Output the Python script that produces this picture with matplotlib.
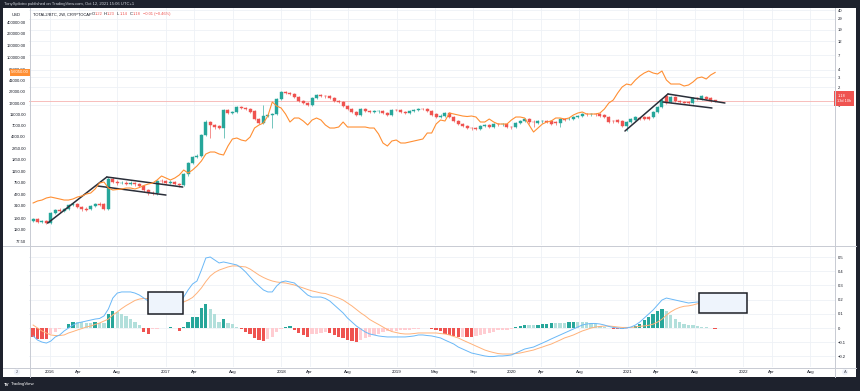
import matplotlib
matplotlib.use("Agg")
import matplotlib.pyplot as plt
import matplotlib.dates as mdates
import matplotlib.transforms as mtransforms
from matplotlib.patches import Rectangle
from matplotlib.lines import Line2D
from matplotlib.ticker import NullLocator
import numpy as np
import pandas as pd

plt.rcParams["font.family"] = ["Liberation Sans", "DejaVu Sans"]

# ---- data (TOTAL2/BTC, 2W candles; overlay BTCUSD; MACD) ----
dates = pd.date_range("2015-11-09", periods=155, freq="14D")

opens = [
    .0111, .0120, .0106, .0111, .0102, .0151, .0170, .0163, .0176, .0206,
    .0214, .0191, .0176, .0176, .0198, .0214, .0214, .0176, .0567, .0505,
    .0485, .0495, .0476, .0485, .0467, .0432, .0370, .0329, .0323, .0525,
    .0515, .0495, .0505, .0467, .0449, .0689, .1057, .1335, .1388, .3143,
    .5212, .4638, .4461, .4127, .8314, .7398, .7692, .9343, .8987, .8644,
    .7997, .5858, .5013, .6583, .6844, .7116, 1.2755, 1.675, 1.611, 1.5495,
    1.3788, 1.18, 1.0917, 1.0099, 1.3262, 1.462, 1.4335, 1.406, 1.3262, 1.18,
    1.135, .9714, .8644, .7692, .6844, .8644, .7997, .7692, .7843, .7997,
    .7398, .6844, .8314, .8154, .7692, .7543, .7997, .8154, .8644, .8479,
    .7997, .7116, .6332, .6583, .7398, .6332, .5419, .4822, .4461, .4127,
    .4127, .3970, .4461, .4638, .4291, .4822, .4730, .4822, .4291, .4291,
    .5013, .5419, .5858, .5212, .5013, .5315, .5419, .5419, .5212, .5013,
    .5858, .5858, .5858, .6332, .6583, .7116, .6979, .7116, .7116, .6844,
    .6332, .5419, .5634, .5419, .4461, .5212, .5634, .6090, .6332, .6210,
    .6332, .7692, .9343, 1.4335, 1.135, 1.3788, 1.18, 1.135, 1.135, 1.0917,
    1.3262, 1.2755, 1.3788, 1.3262, 1.22,
]
closes = [
    .0120, .0106, .0111, .0102, .0151, .0170, .0163, .0176, .0206, .0214,
    .0191, .0176, .0173, .0198, .0214, .0210, .0176, .0567, .0505, .0485,
    .0495, .0476, .0485, .0467, .0432, .0370, .0329, .0323, .0525, .0515,
    .0495, .0505, .0467, .0449, .0689, .1057, .1335, .1388, .3143, .5212,
    .4638, .4209, .4127, .8314, .7398, .7692, .9343, .8987, .8644, .7692,
    .5858, .5013, .6583, .6844, .7116, 1.2755, 1.675, 1.611, 1.5495, 1.3788,
    1.18, 1.0917, 1.0099, 1.3262, 1.462, 1.4335, 1.406, 1.3262, 1.18, 1.135,
    .9714, .8644, .7692, .6844, .8644, .7997, .7692, .7843, .7997, .7398,
    .6844, .8314, .8154, .7692, .7543, .7997, .8154, .8644, .8479, .7997,
    .6844, .6332, .6712, .7398, .6332, .5419, .4822, .4461, .4127, .4048,
    .3970, .4461, .4638, .4291, .4822, .4730, .4822, .4291, .4209, .5013,
    .5419, .5858, .5212, .5112, .5419, .5419, .5212, .4822, .4917, .5858,
    .5744, .5972, .6332, .6583, .7255, .6979, .7116, .6979, .6583, .6332,
    .5212, .5315, .5212, .4461, .5212, .5858, .6332, .5972, .5858, .5858,
    .7692, .9343, 1.2268, 1.0917, 1.3788, 1.18, 1.135, 1.113, 1.0917, 1.3262,
    1.3007, 1.4335, 1.2755, 1.18, 1.18,
]
highs = [
    .0124, .0124, .0115, .0115, .0157, .0176, .0183, .0183, .0214, .0232,
    .0223, .0198, .0191, .0206, .0223, .0232, .0223, .0613, .0613, .0546,
    .0525, .0525, .0525, .0505, .0485, .0449, .0384, .0356, .0546, .0567,
    .0546, .0546, .0525, .0485, .0716, .1099, .1388, .1500, .3268, .5634,
    .5419, .4822, .4638, .8644, .8644, .7997, .9714, .9714, .9343, .8987,
    .8314, .6090, 1.0099, .7116, .7398, 1.3262, 1.742, 1.742, 1.675, 1.611,
    1.4335, 1.2268, 1.135, 1.3788, 1.5495, 1.52, 1.4904, 1.462, 1.3788, 1.2268,
    1.18, 1.0099, .8987, .7997, .8987, .8987, .8314, .8154, .8314, .8314,
    .7692, .8644, .8644, .8479, .7997, .8314, .8479, .8987, .8987, .8814,
    .8314, .7398, .6979, .7692, .7692, .6583, .5634, .5013, .4638, .4291,
    .4291, .4638, .4822, .4822, .5013, .5013, .5013, .5013, .4461, .5212,
    .5634, .6090, .6090, .5634, .5634, .5634, .5634, .5634, .5419, .6090,
    .6090, .6210, .6583, .6844, .7543, .7398, .7398, .7398, .7398, .7116,
    .6583, .5634, .5858, .5634, .5419, .6090, .6583, .6332, .6583, .6583,
    .7997, .9714, 1.2755, 1.5495, 1.4335, 1.4335, 1.2268, 1.18, 1.18, 1.3788,
    1.3788, 1.4904, 1.4335, 1.3788, 1.23,
]
lows = [
    .0106, .0102, .0102, .0098, .0098, .0145, .0157, .0157, .0170, .0198,
    .0183, .0163, .0163, .0170, .0191, .0198, .0170, .0170, .0485, .0449,
    .0467, .0449, .0449, .0432, .0415, .0342, .0304, .0304, .0304, .0485,
    .0467, .0467, .0449, .0415, .0432, .0637, .1017, .1284, .1335, .3023,
    .2797, .3970, .3970, .2797, .7116, .7116, .7398, .8644, .8314, .7398,
    .5634, .4822, .4822, .6332, .4127, .6844, 1.2268, 1.5495, 1.4904, 1.3262,
    1.135, 1.05, .9714, .9714, 1.2755, 1.3788, 1.3262, 1.2755, 1.135, 1.0917,
    .9343, .8314, .7398, .6583, .6583, .7692, .7398, .7398, .7543, .7116,
    .6583, .6583, .7843, .7398, .7255, .7255, .7692, .7843, .8154, .7692,
    .6583, .6090, .6090, .6332, .6090, .5212, .4638, .4291, .3970, .3818,
    .3818, .3818, .4291, .4127, .4127, .4461, .4461, .4127, .3970, .4127,
    .4822, .5212, .4822, .4291, .4822, .5013, .5013, .4638, .4638, .4291,
    .5419, .5634, .5634, .6090, .6332, .6712, .6712, .6712, .6332, .6090,
    .5013, .5013, .5013, .4291, .3672, .5013, .5419, .5634, .5634, .5634,
    .6090, .7398, .8987, 1.05, 1.0917, 1.135, 1.0917, 1.0707, 1.05, 1.05,
    1.2508, 1.2268, 1.2268, 1.135, 1.14,
]
btc_usd = [
    342, 370, 384, 416, 432, 416, 400, 384, 384, 400,
    432, 449, 486, 505, 591, 747, 777, 614, 568, 579,
    591, 614, 614, 591, 626, 677, 718, 747, 840, 982,
    908, 840, 908, 1021, 1241, 1104, 1241, 1451, 1764, 2319,
    2507, 2507, 2319, 2230, 3169, 4167, 4333, 4007, 3853, 4505,
    6400, 7197, 7783, 10231, 17680, 15120, 13983, 11062, 8093, 9463,
    9463, 8416, 7197, 8751, 9463, 8751, 7197, 6400, 6400, 6656,
    8093, 6656, 6656, 6656, 6656, 6656, 6400, 6400, 5065, 3564,
    3169, 3853, 4007, 3564, 3564, 3706, 3853, 4007, 4167, 5266,
    5266, 7485, 8751, 8416, 11502, 11062, 10640, 10231, 10033, 10231,
    9839, 8093, 8093, 9100, 8093, 7485, 7485, 7485, 8751, 9839,
    9839, 9463, 7197, 5475, 6400, 7485, 8093, 8416, 9463, 9463,
    9100, 9463, 10640, 11502, 11963, 11062, 11062, 11062, 11502, 13450,
    17004, 19113, 25126, 31760, 35712, 34342, 41765, 48825, 54901, 59365,
    54901, 52793, 59365, 41765, 35712, 35712, 35712, 33024, 34342, 38614,
    45152, 46950, 43416, 50770, 56050,
]
macd = [
    -0.056, -0.085, -0.099, -0.106, -0.092, -0.063, -0.049, -0.021, 0.0, 0.021,
    0.035, 0.042, 0.049, 0.056, 0.063, 0.067, 0.085, 0.134, 0.211, 0.246,
    0.254, 0.254, 0.254, 0.246, 0.232, 0.211, 0.190, 0.155, 0.176, 0.183,
    0.190, 0.187, 0.183, 0.176, 0.218, 0.268, 0.310, 0.331, 0.408, 0.493,
    0.500, 0.479, 0.458, 0.465, 0.458, 0.451, 0.444, 0.423, 0.394, 0.359,
    0.324, 0.296, 0.268, 0.254, 0.254, 0.296, 0.324, 0.331, 0.324, 0.317,
    0.289, 0.261, 0.232, 0.218, 0.218, 0.218, 0.208, 0.190, 0.162, 0.134,
    0.106, 0.070, 0.042, 0.014, -0.007, -0.028, -0.042, -0.049, -0.056, -0.060,
    -0.063, -0.063, -0.063, -0.063, -0.063, -0.060, -0.056, -0.049, -0.049, -0.053,
    -0.056, -0.063, -0.070, -0.085, -0.099, -0.113, -0.134, -0.148, -0.162, -0.176,
    -0.183, -0.190, -0.197, -0.201, -0.201, -0.197, -0.197, -0.194, -0.190, -0.176,
    -0.162, -0.148, -0.141, -0.134, -0.120, -0.106, -0.092, -0.077, -0.063, -0.049,
    -0.035, -0.021, -0.007, 0.007, 0.021, 0.028, 0.032, 0.032, 0.028, 0.021,
    0.011, 0.004, 0.0, -0.004, 0.0, 0.007, 0.021, 0.042, 0.070, 0.099,
    0.127, 0.162, 0.197, 0.211, 0.204, 0.197, 0.190, 0.183, 0.176, 0.180,
    0.183, 0.183, 0.180, 0.176, 0.169,
]
signal = [
    0.021, 0.0, -0.021, -0.035, -0.049, -0.053, -0.053, -0.049, -0.035, -0.025,
    -0.014, -0.004, 0.007, 0.014, 0.025, 0.035, 0.049, 0.063, 0.092, 0.113,
    0.137, 0.158, 0.176, 0.194, 0.204, 0.208, 0.208, 0.201, 0.194, 0.190,
    0.187, 0.183, 0.183, 0.183, 0.183, 0.197, 0.215, 0.246, 0.282, 0.327,
    0.366, 0.391, 0.408, 0.419, 0.430, 0.437, 0.437, 0.433, 0.430, 0.415,
    0.394, 0.373, 0.356, 0.342, 0.331, 0.324, 0.320, 0.317, 0.310, 0.303,
    0.292, 0.282, 0.271, 0.261, 0.254, 0.246, 0.243, 0.232, 0.222, 0.211,
    0.197, 0.176, 0.155, 0.130, 0.106, 0.085, 0.060, 0.042, 0.025, 0.007,
    -0.011, -0.025, -0.032, -0.039, -0.042, -0.042, -0.039, -0.035, -0.035, -0.035,
    -0.035, -0.035, -0.039, -0.042, -0.049, -0.060, -0.070, -0.085, -0.099, -0.113,
    -0.127, -0.141, -0.155, -0.165, -0.173, -0.180, -0.183, -0.183, -0.183, -0.180,
    -0.176, -0.169, -0.162, -0.155, -0.144, -0.134, -0.123, -0.113, -0.099, -0.085,
    -0.070, -0.060, -0.049, -0.035, -0.021, -0.011, 0.0, 0.007, 0.011, 0.014,
    0.014, 0.011, 0.007, 0.004, 0.004, 0.004, 0.007, 0.012, 0.015, 0.019,
    0.027, 0.042, 0.062, 0.091, 0.114, 0.132, 0.145, 0.153, 0.156, 0.162,
    0.171, 0.173, 0.174, 0.174, 0.176,
]
hist = [
    -0.06, -0.075, -0.08, -0.08, -0.045, -0.03, -0.01, 0.003, 0.025, 0.045,
    0.04, 0.04, 0.038, 0.035, 0.045, 0.035, 0.032, 0.1, 0.12, 0.11,
    0.1, 0.085, 0.065, 0.045, 0.02, -0.025, -0.04, -0.01, -0.006, -0.003,
    0.003, 0.004, 0.002, -0.02, 0.004, 0.045, 0.075, 0.08, 0.14, 0.167,
    0.135, 0.1, 0.045, 0.06, 0.035, 0.025, 0.007, -0.01, -0.025, -0.045,
    -0.07, -0.085, -0.09, -0.08, -0.06, -0.03, -0.01, 0.005, 0.014, -0.014,
    -0.033, -0.05, -0.06, -0.045, -0.04, -0.035, -0.03, -0.035, -0.05, -0.065,
    -0.07, -0.082, -0.09, -0.1, -0.082, -0.07, -0.06, -0.05, -0.04, -0.03,
    -0.022, -0.02, -0.018, -0.016, -0.014, -0.012, -0.01, -0.008, 0.003, 0.002,
    -0.01, -0.015, -0.02, -0.04, -0.05, -0.053, -0.064, -0.063, -0.063, -0.063,
    -0.056, -0.049, -0.042, -0.036, -0.028, -0.017, -0.014, -0.011, -0.007, 0.004,
    0.014, 0.021, 0.021, 0.021, 0.024, 0.028, 0.031, 0.036, 0.036, 0.036,
    0.035, 0.039, 0.042, 0.042, 0.042, 0.039, 0.032, 0.025, 0.017, 0.007,
    -0.003, -0.007, -0.007, -0.008, -0.004, 0.003, 0.014, 0.03, 0.055, 0.08,
    0.1, 0.12, 0.135, 0.12, 0.09, 0.065, 0.045, 0.03, 0.02, 0.018,
    0.012, 0.01, 0.006, 0.002, -0.007,
]

usd_ticks = [400000, 260000, 160000, 100000, 63000, 41000, 27000, 17000, 11000,
             7000, 4600, 2850, 1850, 1150, 750, 470, 310, 190, 120, 77.5]
ratio_ticks = [40, 29, 19, 12, 7, 4, 3, 2, 1]
macd_ticks = [0.5, 0.4, 0.3, 0.2, 0.1, 0, -0.1, -0.2]
time_ticks = ["2016-01-01", "2016-04-01", "2016-08-01", "2017-01-01", "2017-04-01",
              "2017-08-01", "2018-01-01", "2018-04-01", "2018-08-01", "2019-01-01",
              "2019-05-01", "2019-09-01", "2020-01-01", "2020-04-01", "2020-08-01",
              "2021-01-01", "2021-04-01", "2021-08-01", "2022-01-01", "2022-04-01",
              "2022-08-01"]
time_labels = ["2016", "Apr", "Aug", "2017", "Apr", "Aug", "2018", "Apr", "Aug", "2019",
               "May", "Sep", "2020", "Apr", "Aug", "2021", "Apr", "Aug", "2022", "Apr", "Aug"]

# drawings: (date, value) pairs
flag_lines = [
    (("2015-12-25", 0.0102), ("2016-06-29", 0.0613)),
    (("2016-06-29", 0.0613), ("2017-02-24", 0.0415)),
    (("2016-05-31", 0.0432), ("2017-01-02", 0.0304)),
    (("2020-12-23", 0.367), ("2021-05-08", 1.55)),
    (("2021-05-08", 1.55), ("2021-11-04", 1.092)),
    (("2021-04-22", 1.135), ("2021-09-24", 0.899)),
]
macd_boxes = [
    ("2016-11-05", "2017-02-25", 0.101, 0.251),
    ("2021-08-14", "2022-01-13", 0.106, 0.246),
]

UP, DOWN = "#26a69a", "#ef5350"
TXT = "#131722"
GRID = "#eef1f6"
DARK = "#1e222d"

W, H = 860, 391


def fx(px):
    return px / W


def fy(py):
    return 1 - py / H


fig = plt.figure(figsize=(W / 100, H / 100), dpi=100)
fig.patch.set_facecolor(DARK)
fig.add_artist(Rectangle((fx(3), fy(377)), fx(856) - fx(3), fy(8) - fy(377),
                         transform=fig.transFigure, facecolor="white",
                         edgecolor="none", zorder=-5))

xmin, xmax = pd.Timestamp("2015-10-27"), pd.Timestamp("2022-10-18")
tick_pos = pd.to_datetime(time_ticks)

# ---- main pane ----
ax_c = fig.add_axes([fx(29), fy(245), fx(835) - fx(29), fy(8) - fy(245)])
ax_o = ax_c.twinx()
for a in (ax_c, ax_o):
    a.set_facecolor("none")
    a.set_xlim(xmin, xmax)
    a.set_yscale("log")
    for s in a.spines.values():
        s.set_visible(False)
    a.tick_params(axis="x", length=0, labelbottom=False)
    a.yaxis.set_minor_locator(NullLocator())

ax_c.set_ylim(0.00435, 44.0)
ax_o.set_ylim(66.3, 695600)

ax_c.yaxis.tick_right()
ax_c.set_yticks(ratio_ticks)
ax_c.set_yticklabels([str(t) for t in ratio_ticks])
ax_c.tick_params(axis="y", length=0, pad=2.2, labelsize=3.0, labelcolor=TXT)

ax_o.yaxis.tick_left()
ax_o.set_yticks(usd_ticks)
ax_o.set_yticklabels([f"{t:.2f}" for t in usd_ticks])
ax_o.tick_params(axis="y", length=0, pad=2.2, labelsize=3.0, labelcolor=TXT)

for t in tick_pos:
    ax_c.axvline(t, color=GRID, lw=0.6, zorder=0)
for v in ratio_ticks:
    ax_c.axhline(v, color=GRID, lw=0.6, zorder=0)

o = np.array(opens)
c = np.array(closes)
hi = np.array(highs)
lo = np.array(lows)
cols = np.where(c >= o, UP, DOWN)
ax_c.axhline(closes[-1], color="#f6b3b1", lw=0.6, zorder=1)
ax_c.vlines(dates, lo, hi, colors=cols, lw=0.45, zorder=3)
ax_c.bar(dates, np.abs(c - o), bottom=np.minimum(o, c), width=9.5, color=cols,
         edgecolor=cols, linewidth=0.3, zorder=4)

for (d0, v0), (d1, v1) in flag_lines:
    ax_c.plot(pd.to_datetime([d0, d1]), [v0, v1], color="#2a2e39", lw=1.1,
              solid_capstyle="round", zorder=6)

ax_o.plot(dates, btc_usd, color="#ff8f33", lw=0.8, zorder=5)

# price labels
blend_r = mtransforms.blended_transform_factory(ax_c.transAxes, ax_c.transData)
ax_c.annotate(f"{closes[-1]:.2f}\n13d 10h", xy=(1.0, closes[-1]), xycoords=blend_r,
              xytext=(1.6, 1.8), textcoords="offset points",
              ha="left", va="center", fontsize=2.8, color="white", linespacing=1.5,
              bbox=dict(boxstyle="square,pad=0.75", fc=DOWN, ec="none"), zorder=10,
              annotation_clip=False)
blend_l = mtransforms.blended_transform_factory(ax_o.transAxes, ax_o.transData)
ax_o.text(0.0, btc_usd[-1], f"{btc_usd[-1]:.2f} ", transform=blend_l,
          ha="right", va="center", fontsize=3.0, color="white",
          bbox=dict(boxstyle="square,pad=0.3", fc="#ff8f33", ec="none"),
          zorder=10, clip_on=False)

# ---- MACD pane ----
ax_m = fig.add_axes([fx(29), fy(367), fx(835) - fx(29), fy(246) - fy(367)])
ax_m.set_facecolor("none")
ax_m.set_xlim(xmin, xmax)
ax_m.set_ylim(-0.2746, 0.5775)
for s in ax_m.spines.values():
    s.set_visible(False)
for t in tick_pos:
    ax_m.axvline(t, color=GRID, lw=0.6, zorder=0)
for v in macd_ticks:
    ax_m.axhline(v, color=GRID, lw=0.6, zorder=0)

hcols = []
prev = 0.0
for h in hist:
    if h >= 0:
        hcols.append("#26a69a" if h > prev else "#b2dfdb")
    else:
        hcols.append("#ffcdd2" if h > prev else "#ef5350")
    prev = h
ax_m.bar(dates, hist, width=10.5, color=hcols, zorder=2)
ax_m.plot(dates, macd, color="#6ab8f7", lw=0.7, zorder=4)
ax_m.plot(dates, signal, color="#ffb27a", lw=0.7, zorder=3)

for d0, d1, v0, v1 in macd_boxes:
    x0, x1 = mdates.date2num(pd.Timestamp(d0)), mdates.date2num(pd.Timestamp(d1))
    ax_m.add_patch(Rectangle((x0, v0), x1 - x0, v1 - v0, facecolor="#eef4fc",
                             edgecolor="#1c1f26", lw=1.1, zorder=5))

ax_m.yaxis.tick_right()
ax_m.set_yticks(macd_ticks)
ax_m.set_yticklabels(["0.5", "0.4", "0.3", "0.2", "0.1", "0", "\u22120.1", "\u22120.2"])
ax_m.tick_params(axis="y", length=0, pad=2.2, labelsize=3.0, labelcolor=TXT)
ax_m.set_xticks(tick_pos)
ax_m.set_xticklabels(time_labels)
ax_m.tick_params(axis="x", length=0, pad=2.2, labelsize=3.2, labelcolor=TXT)

# ---- frame lines ----
SEP = "#c8cbd3"
for y in (245.5, 367.5):
    fig.add_artist(Line2D([fx(3), fx(856)], [fy(y), fy(y)], color=SEP, lw=0.7,
                          transform=fig.transFigure))
for x in (29.5, 835):
    fig.add_artist(Line2D([fx(x), fx(x)], [fy(8), fy(377)], color=SEP, lw=0.7,
                          transform=fig.transFigure))

# ---- texts ----
fig.text(fx(4), fy(4), "TonySpilotro published on TradingView.com, Oct 12, 2021 15:06 UTC+1",
         color="#d1d4dc", fontsize=3.0, va="center", ha="left")
fig.text(fx(16), fy(14.5), "USD", color=TXT, fontsize=3.0, va="center", ha="center")

hdr_y = fy(14.3)
fig.text(fx(33), hdr_y, "TOTAL2/BTC, 2W, CRYPTOCAP", color=TXT, fontsize=2.9, va="center")
ohlc = [("O", "1.22", 92), ("H", "1.23", 104), ("L", "1.14", 117), ("C", "1.18", 130)]
for lab, val, px in ohlc:
    fig.text(fx(px), hdr_y, lab, color=TXT, fontsize=2.9, va="center")
    fig.text(fx(px + 2.6), hdr_y, val, color=DOWN, fontsize=2.9, va="center")
fig.text(fx(143), hdr_y, "\u22120.01 (\u22120.46%)", color=DOWN, fontsize=2.9, va="center")

fig.text(fx(4), fy(384.5), "TV", color="white", fontsize=3.2, fontweight="bold", va="center")
fig.text(fx(11), fy(384.5), "TradingView", color="white", fontsize=3.2, va="center")

fig.text(fx(17), fy(372), "2", color="#50535e", fontsize=2.8, va="center", ha="center",
         bbox=dict(boxstyle="circle,pad=0.3", fc="#f0f3fa", ec="none"))
fig.text(fx(845), fy(372), "A", color="#50535e", fontsize=3.0, va="center", ha="center",
         bbox=dict(boxstyle="circle,pad=0.25", fc="#f0f3fa", ec="none"))

fig.savefig("out.png", dpi=100, facecolor=fig.get_facecolor())
